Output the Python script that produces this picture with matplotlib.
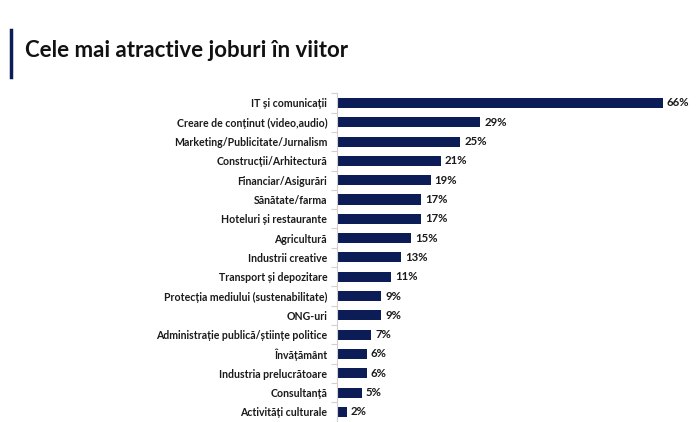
import numpy as np
import matplotlib.pyplot as plt

# Data
categories = [
    'IT și comunicații',
    'Creare de conținut (video,audio)',
    'Marketing/Publicitate/Jurnalism',
    'Construcții/Arhitectură',
    'Financiar/Asigurări',
    'Sănătate/farma',
    'Hoteluri și restaurante',
    'Agricultură',
    'Industrii creative',
    'Transport și depozitare',
    'Protecția mediului (sustenabilitate)',
    'ONG-uri',
    'Administrație publică/științe politice',
    'Învățământ',
    'Industria prelucrătoare',
    'Consultanță',
    'Activități culturale',
]
values = [66, 29, 25, 21, 19, 17, 17, 15, 13, 11, 9, 9, 7, 6, 6, 5, 2]
title = 'Cele mai atractive joburi în viitor'

navy = '#0c1c56'
plt.rcParams['font.family'] = ['Lato', 'DejaVu Sans']

fig = plt.figure(figsize=(6.96, 4.22), dpi=100)
ax = fig.add_axes([0.484, 0.001, 0.497, 0.778])

y = np.arange(len(categories))
ax.barh(y, values, height=0.52, color=navy)
ax.set_ylim(len(categories) - 0.5, -0.5)
ax.set_xlim(0, 70)

ax.set_yticks(y)
ax.set_yticklabels(categories, fontsize=7.6, fontweight='bold', color='#1a1a1a')
ax.tick_params(axis='y', which='major', length=0, pad=7)
ax.set_yticks(np.arange(-0.5, len(categories), 1), minor=True)
ax.tick_params(axis='y', which='minor', length=4, color='#d0d0d0', width=0.8)
ax.set_xticks([])

for s in ['top', 'right', 'bottom']:
    ax.spines[s].set_visible(False)
ax.spines['left'].set_color('#d0d0d0')
ax.spines['left'].set_linewidth(0.8)

for yi, v in zip(y, values):
    ax.text(v + 0.8, yi, f'{v}%', va='center', ha='left',
            fontsize=8.2, fontweight='bold', color='#1a1a1a')

# title with a vertical accent line
fig.text(0.036, 0.88, title, fontsize=16, fontweight='bold',
         color='#111111', va='center', ha='left')
fig.add_artist(plt.Line2D([0.016, 0.016], [0.817, 0.93], color=navy, lw=2.5))

fig.savefig('out.png', dpi=100)
